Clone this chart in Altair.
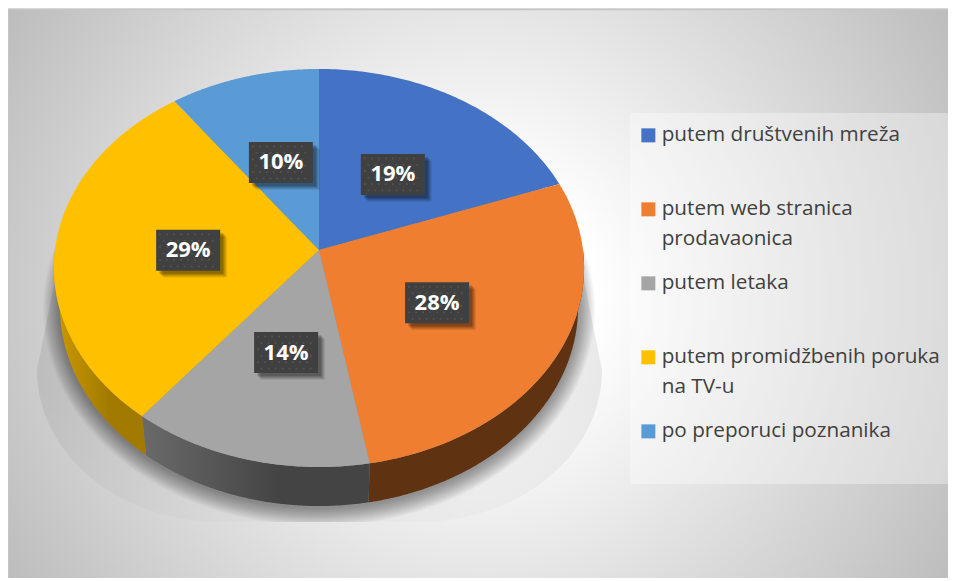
import numpy as np
import pandas as pd
import altair as alt

categories = ["putem društvenih mreža", "putem web stranica\nprodavaonica", "putem letaka",
              "putem promidžbenih poruka\nna TV-u", "po preporuci poznanika"]
shares = [19.4, 27.8, 13.5, 29.3, 10.0]
labels = ["19%", "28%", "14%", "29%", "10%"]
face_colors = ["#4472c4", "#ef7e31", "#a5a5a5", "#ffc000", "#5b9bd5"]
wall_colors = [["#2c4a80", "#2c4a80"], ["#5f3212", "#5f3212"], ["#6a6a6a", "#444444"],
               ["#cc9a00", "#a27a00"], ["#3b6588", "#3b6588"]]

# perspective model of the disc, in screenshot pixels
CX, CY, A, B, P = 319, 250, 264, 197.4, 0.0904
BASE_A, DEPTH = 258, 39
FLOOR = 522
RIGHT, BOTTOM = 948, 578

xs = alt.Scale(domain=[8, RIGHT], nice=False, zero=False)
ys = alt.Scale(domain=[BOTTOM, 8], nice=False, zero=False)
X = alt.X("x:Q", scale=xs, axis=None)
Y = alt.Y("y0:Q", scale=ys, axis=None)
Y2 = alt.Y2("y1:Q")


def project(share, r=1.0, a=A, dy=0.0):
    t = np.asarray(share) * 2 * np.pi / 100
    u, v = r * np.sin(t), r * np.cos(t)
    d = 1 + P * v
    return CX + a * u / d, CY - B * v / d + dy


def spans(px, py):
    """Vertical section of a closed outline at each vertex column."""
    px, py = np.asarray(px, float), np.asarray(py, float)
    cols = np.unique(px)
    rows = []
    qx, qy = np.roll(px, -1), np.roll(py, -1)
    for c in cols:
        hits = []
        for x0, y0, x1, y1 in zip(px, py, qx, qy):
            if min(x0, x1) <= c <= max(x0, x1):
                if x0 == x1:
                    hits += [y0, y1]
                else:
                    hits.append(y0 + (c - x0) / (x1 - x0) * (y1 - y0))
        rows.append({"x": c, "y0": min(hits), "y1": max(hits)})
    return pd.DataFrame(rows)


edges = np.concatenate([[0], np.cumsum(shares)])
faces, walls = [], []
for i, cat in enumerate(categories):
    s = np.linspace(edges[i], edges[i + 1], 90)
    ax, ay = project(s)
    df = spans(np.append(ax, CX), np.append(ay, CY))
    df["cat"] = cat
    faces.append(df)
    lo, hi = max(edges[i], 25.0), min(edges[i + 1], 75.0)
    if lo < hi:
        s = np.linspace(lo, hi, 90)
        tx, ty = project(s)
        bx, by = project(s, a=BASE_A, dy=DEPTH)
        w = spans(np.concatenate([tx, bx[::-1]]), np.concatenate([ty, by[::-1]]))
        walls.append((w, wall_colors[i]))

# background
bg = alt.Chart(pd.DataFrame({"x": [8], "x2": [RIGHT + 4], "y0": [9.5], "y1": [BOTTOM + 4]})).mark_rect(
    color=alt.RadialGradient(
        gradient="radial", x1=0.5, y1=0.5, r1=0.12, x2=0.5, y2=0.5, r2=0.58,
        stops=[alt.GradientStop(offset=0, color="#ffffff"), alt.GradientStop(offset=1, color="#bdbdbd")],
    ),
    stroke="#c6c6c6", strokeWidth=1.5,
).encode(x=alt.X("x:Q", scale=xs, axis=None), x2="x2:Q", y=Y, y2=Y2)

# legend panel
panel = alt.Chart(pd.DataFrame({"x": [630], "x2": [RIGHT], "y0": [113], "y1": [484]})).mark_rect(
    color="#ffffff", opacity=0.35
).encode(x=alt.X("x:Q", scale=xs, axis=None), x2="x2:Q", y=Y, y2=Y2)


def ellipse(rx, ry, cy):
    t = np.linspace(0, np.pi, 160)
    x = CX + rx * np.cos(t)
    h = ry * np.sin(t)
    return pd.DataFrame({"x": x, "y0": cy - h, "y1": np.minimum(cy + h, FLOOR)}).sort_values("x")


def sheet():
    # straight sides flaring from behind the disc, rounding into the flat floor edge
    t = np.linspace(0, np.pi / 2, 60)
    lx = 220 - 183 * np.cos(t)
    ly = 370 + 152 * np.sin(t)
    left_x = np.concatenate([[72], lx])
    left_y = np.concatenate([[195], ly])
    px = np.concatenate([left_x, 2 * CX - left_x[::-1] + 1])
    py = np.concatenate([left_y, left_y[::-1]])
    return spans(px, py)


layers = [bg, panel]
# floor shadow: a wide faint sheet, then soft rings close to the base
layers.append(alt.Chart(sheet()).mark_area(
    color=alt.LinearGradient(gradient="linear", x1=0, y1=0, x2=0, y2=1,
                             stops=[alt.GradientStop(offset=0, color="rgba(0,0,0,0.10)"),
                                    alt.GradientStop(offset=0.6, color="rgba(0,0,0,0.07)"),
                                    alt.GradientStop(offset=1, color="rgba(0,0,0,0.015)")])
).encode(x=X, y=Y, y2=Y2))
for grow in range(1, 19):
    layers.append(alt.Chart(ellipse(258 + grow, 199 + grow, 309)).mark_area(color="#000000", opacity=0.022)
                  .encode(x=X, y=Y, y2=Y2))

for w, cols in walls:
    layers.append(alt.Chart(w).mark_area(
        color=alt.LinearGradient(gradient="linear", x1=0, y1=0, x2=1, y2=0,
                                 stops=[alt.GradientStop(offset=0, color=cols[0]),
                                        alt.GradientStop(offset=0.6, color=cols[1]),
                                        alt.GradientStop(offset=1, color=cols[1])])
    ).encode(x=X, y=Y, y2=Y2))

legend = alt.Legend(
    title=None, orient="none", legendX=630, legendY=117, columns=1, gridAlign="all",
    symbolType="square", symbolSize=196, symbolStrokeWidth=0, symbolOpacity=1,
    labelFont="Open Sans", labelFontSize=20.7, labelColor="#404040", labelLimit=330, labelOffset=3,
    labelExpr="split(datum.label, '\\n')", rowPadding=23,
)
layers.append(alt.Chart(pd.concat(faces)).mark_area().encode(
    x=X, y=Y, y2=Y2,
    color=alt.Color("cat:N", scale=alt.Scale(domain=categories, range=face_colors), legend=legend),
))

# value labels: placed half way along each slice's middle radius
mid = (edges[:-1] + edges[1:]) / 2
lx, ly = project(mid, r=0.5, dy=2.5)
lx = lx + 1
lab = pd.DataFrame({"x": lx, "y": ly, "t": labels})
PX = alt.X("x:Q", scale=xs, axis=None)
PY = alt.Y("y:Q", scale=ys, axis=None)
for off, op in [(7, 0.07), (6, 0.09), (5, 0.11), (4, 0.13), (3, 0.15)]:
    layers.append(alt.Chart(lab).mark_rect(width=64, height=41, color="#000000", opacity=op,
                                           xOffset=off, yOffset=off).encode(x=PX, y=PY))
layers.append(alt.Chart(lab).mark_rect(width=64, height=41, color="#404040").encode(x=PX, y=PY))
dots = pd.DataFrame([
    {"x": x0 + dx + (3.5 if k % 2 else 0), "y": y0 + dy}
    for x0, y0 in zip(lx, ly)
    for k, dy in enumerate(np.arange(-16, 17, 6.4))
    for dx in np.arange(-28, 26, 7)
])
layers.append(alt.Chart(dots).mark_square(size=3.5, color="#525252", opacity=1).encode(x=PX, y=PY))
layers.append(alt.Chart(lab).mark_text(font="Open Sans", fontWeight="bold", fontSize=22, color="#ffffff",
                                       baseline="middle").encode(x=PX, y=PY, text="t:N"))

chart = alt.layer(*layers).properties(width=RIGHT - 8, height=BOTTOM - 8, padding=0,
                                      autosize=alt.AutoSizeParams(type="none"))
chart = chart.configure_view(stroke=None).configure(style={"guide-label": {"lineHeight": 29.5}})
chart.save("out.html", embed_options={"renderer": "svg", "actions": False})
